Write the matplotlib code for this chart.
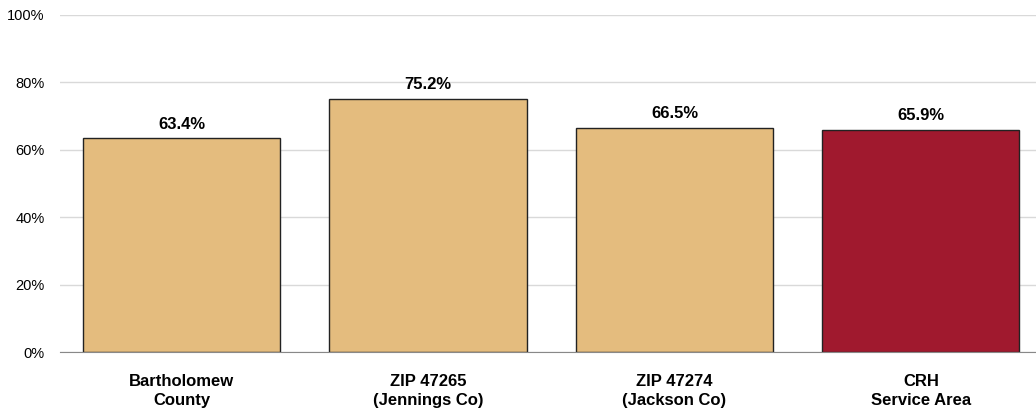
import matplotlib
matplotlib.use("Agg")
import matplotlib.pyplot as plt
from matplotlib.ticker import PercentFormatter

# data
categories = ["Bartholomew\nCounty", "ZIP 47265\n(Jennings Co)", "ZIP 47274\n(Jackson Co)", "CRH\nService Area"]
values = [63.4, 75.2, 66.5, 65.9]
colors = ["#E4BC7E", "#E4BC7E", "#E4BC7E", "#A0192E"]

plt.rcParams['font.family'] = ['Liberation Sans Narrow', 'Liberation Sans', 'DejaVu Sans']

fig = plt.figure(figsize=(10.36, 4.12), dpi=100)
ax = fig.add_axes([0.058, 0.1456, 0.942, 0.818])

x = range(len(categories))
bars = ax.bar(x, values, width=0.8, color=colors, edgecolor="#222222", linewidth=1, zorder=3)

for b, v in zip(bars, values):
    ax.text(b.get_x() + b.get_width() / 2, v + 2, f"{v:.1f}%", ha="center", va="bottom",
            fontsize=12, fontweight="bold")

ax.set_ylim(0, 100)
ax.set_xlim(-0.493, 3.467)
ax.set_yticks([0, 20, 40, 60, 80, 100])
ax.yaxis.set_major_formatter(PercentFormatter(decimals=0))
ax.set_xticks(list(x))
ax.set_xticklabels(categories, fontsize=12, fontweight="bold", linespacing=1.3)
ax.tick_params(axis="y", length=0, labelsize=10.5, pad=11)
ax.tick_params(axis="x", length=0, pad=16)

ax.grid(axis="y", color="#D9D9D9", linewidth=1, zorder=0)
for s in ["top", "right", "left"]:
    ax.spines[s].set_visible(False)
ax.spines["bottom"].set_color("#888888")
ax.spines["bottom"].set_zorder(4)

fig.savefig("out.png", dpi=100)
